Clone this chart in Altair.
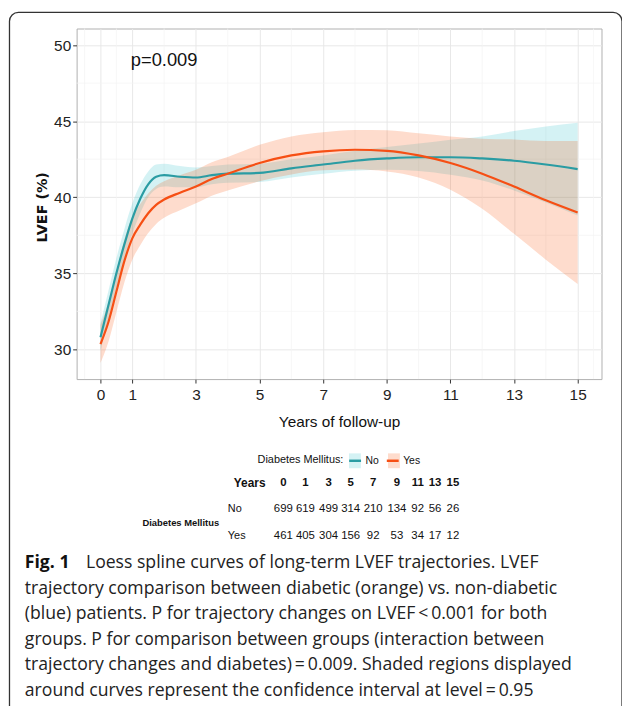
import altair as alt
import pandas as pd

# ---------------- data ----------------
years = [0, 0.25, 0.5, 0.75, 1, 1.25, 1.5, 1.75, 2, 2.5, 3, 3.5, 4, 5, 6, 7, 8, 9, 10, 11, 12, 13, 14, 15]

no_fit = [30.8, 32.9, 35.0, 36.9, 38.6, 39.9, 40.85, 41.35, 41.45, 41.35, 41.3, 41.45, 41.55,
          41.6, 41.9, 42.15, 42.4, 42.55, 42.63, 42.63, 42.55, 42.4, 42.15, 41.85]
no_lo = [29.9, 31.95, 34.0, 35.9, 37.6, 38.95, 40.0, 40.55, 40.7, 40.65, 40.65, 40.85, 40.95,
         41.0, 41.3, 41.55, 41.75, 41.8, 41.73, 41.48, 41.1, 40.45, 39.65, 38.8]
no_hi = [31.7, 33.85, 36.0, 37.9, 39.6, 40.85, 41.7, 42.15, 42.2, 42.05, 41.95, 42.05, 42.15,
         42.2, 42.5, 42.75, 43.05, 43.3, 43.53, 43.78, 44.0, 44.35, 44.65, 44.9]

yes_fit = [30.35, 31.8, 33.8, 35.8, 37.3, 38.2, 38.95, 39.5, 39.85, 40.3, 40.7, 41.2, 41.55,
           42.25, 42.75, 43.02, 43.12, 43.05, 42.75, 42.25, 41.55, 40.7, 39.8, 39.0]
yes_lo = [29.1, 30.5, 32.45, 34.4, 35.9, 36.85, 37.65, 38.25, 38.65, 39.15, 39.6, 40.1, 40.45,
          41.05, 41.5, 41.77, 41.82, 41.7, 41.3, 40.5, 39.25, 37.6, 35.9, 34.3]
yes_hi = [31.6, 33.1, 35.15, 37.2, 38.7, 39.55, 40.25, 40.75, 41.05, 41.45, 41.8, 42.3, 42.65,
          43.45, 44.0, 44.27, 44.42, 44.4, 44.2, 44.0, 43.85, 43.8, 43.7, 43.7]

groups = ["No", "Yes"]
x_ticks = [0, 1, 3, 5, 7, 9, 11, 13, 15]
y_ticks = [30, 35, 40, 45, 50]
x_minor = [-0.5, 0.5, 2, 4, 6, 8, 10, 12, 14, 15.5]
y_minor = [32.5, 37.5, 42.5, 47.5]

table_years = [0, 1, 3, 5, 7, 9, 11, 13, 15]
risk_no = [699, 619, 499, 314, 210, 134, 92, 56, 26]
risk_yes = [461, 405, 304, 156, 92, 53, 34, 17, 12]

caption_first = "Loess spline curves of long-term LVEF trajectories. LVEF"
caption_lines = [
    "trajectory comparison between diabetic (orange) vs. non-diabetic",
    "(blue) patients. P for trajectory changes on LVEF\u2009<\u20090.001 for both",
    "groups. P for comparison between groups (interaction between",
    "trajectory changes and diabetes)\u2009=\u20090.009. Shaded regions displayed",
    "around curves represent the confidence interval at level\u2009=\u20090.95",
]

# ---------------- tables ----------------
curves = pd.DataFrame({
    "year": years * 2,
    "group": ["No"] * len(years) + ["Yes"] * len(years),
    "fit": no_fit + yes_fit,
    "lo": no_lo + yes_lo,
    "hi": no_hi + yes_hi,
})

risk = pd.DataFrame({
    "col": table_years * 3,
    "r": [0] * 9 + [1] * 9 + [2] * 9,
    "val": [str(v) for v in table_years] + [str(v) for v in risk_no] + [str(v) for v in risk_yes],
})
caption = pd.DataFrame({"line": list(range(1, len(caption_lines) + 1)), "txt": caption_lines})

# ---------------- styling ----------------
TEAL = "#2a9ca3"
ORANGE = "#f64f14"
BAND = ["rgba(0,175,187,0.17)", "rgba(252,78,7,0.2)"]
SANS = "Liberation Sans, Arial, sans-serif"
CAPF = "Open Sans"
W, H = 530, 354
OX, OY = 77.3, 25.3  # page position of the plot origin

xs = alt.Scale(domain=[-0.75, 15.75], nice=False, zero=False)
ys = alt.Scale(domain=[28.05, 51.09], nice=False, zero=False)

base = alt.Chart(curves)

minor_x = alt.Chart(pd.DataFrame({"v": x_minor})).mark_rule(color="#f3f3f3", strokeWidth=0.7).encode(
    x=alt.X("v:Q", scale=xs))
minor_y = alt.Chart(pd.DataFrame({"v": y_minor})).mark_rule(color="#f3f3f3", strokeWidth=0.7).encode(
    y=alt.Y("v:Q", scale=ys))

# legend geometry (Arial metrics)
LT = 11              # legend title size
LL = 10.5            # legend label size
LX = 260 - OX        # legend start
LY = 429
TPAD = 4
LOFF = 3
CPAD = 2
SW = 2.5
title_w = 7.891 * LT
entry_no = 15 + LOFF + 1.278 * LL   # symbol column + offset + "No"

bands = base.mark_area(interpolate="monotone").encode(
    x=alt.X("year:Q", scale=xs,
            axis=alt.Axis(values=x_ticks, title="Years of follow-up", labelFontSize=15.5,
                          labelPadding=5, titleFontSize=15.5, titleFontWeight="normal",
                          titleBaseline="alphabetic", titleY=47.5)),
    y=alt.Y("lo:Q", scale=ys,
            axis=alt.Axis(values=y_ticks, title="LVEF (%)", labelFontSize=15.5, labelPadding=2,
                          titleFont="DejaVu Sans", titleFontWeight="bold", titleFontSize=14.5,
                          titleBaseline="alphabetic", titleX=-30, titleY=180, titleAngle=-90)),
    y2="hi:Q",
    fill=alt.Fill("group:N", scale=alt.Scale(domain=groups, range=BAND),
                  legend=alt.Legend(orient="none", legendX=LX + title_w + TPAD, legendY=LY,
                                    direction="horizontal", title=None, labelExpr="''",
                                    labelOffset=0, columnPadding=entry_no + CPAD - 17,
                                    symbolType="M-1,-1.25H1V1.25H-1Z", symbolSize=144,
                                    symbolStrokeWidth=SW, symbolStrokeColor="transparent",
                                    symbolOpacity=1)),
)

lines = base.mark_line(interpolate="monotone", strokeWidth=2.2).encode(
    x=alt.X("year:Q", scale=xs),
    y=alt.Y("fit:Q", scale=ys),
    color=alt.Color("group:N", scale=alt.Scale(range=[TEAL, ORANGE]),
                    legend=alt.Legend(orient="none", legendX=LX, legendY=LY,
                                      direction="horizontal", title="Diabetes Mellitus:",
                                      titleOrient="left", titleAnchor="middle", titleBaseline="middle",
                                      titleFontSize=LT, titlePadding=TPAD,
                                      labelFontSize=LL, labelOffset=LOFF, columnPadding=CPAD,
                                      symbolType="stroke", symbolSize=144, symbolStrokeWidth=SW)),
)

ptext = alt.Chart(pd.DataFrame({"x": [2], "y": [49], "t": ["p=0.009"]})).mark_text(
    font=SANS, fontSize=18.5, color="#111", baseline="middle").encode(
    x=alt.X("x:Q", scale=xs), y=alt.Y("y:Q", scale=ys), text="t:N")

main = alt.layer(minor_x, minor_y, bands, lines, ptext)

# risk table
col_px = [286, 308.3, 331.7, 354, 376.7, 400.7, 421.7, 439.3, 457.3]
row_px = [484, 511, 538]
tx = alt.Scale(domain=table_years, range=[p - OX for p in col_px])
ty = alt.Scale(domain=[0, 1, 2], range=[p - OY for p in row_px])

risk_head = alt.Chart(risk).transform_filter(alt.datum.r == 0).mark_text(
    font=SANS, fontSize=11.5, fontWeight="bold", color="#111", baseline="middle").encode(
    x=alt.X("col:Q", scale=tx, axis=None), y=alt.Y("r:Q", scale=ty, axis=None), text="val:N")
risk_vals = alt.Chart(risk).transform_filter(alt.datum.r > 0).mark_text(
    font=SANS, fontSize=11.5, color="#111", baseline="middle").encode(
    x=alt.X("col:Q", scale=tx, axis=None), y=alt.Y("r:Q", scale=ty, axis=None), text="val:N")
head_lab = alt.Chart(pd.DataFrame({"r": [0], "t": ["Years"]})).mark_text(
    font=SANS, fontSize=12, fontWeight="bold", color="#111", baseline="middle", align="left").encode(
    x=alt.value(236 - OX), y=alt.Y("r:Q", scale=ty, axis=None), text="t:N")
row_lab = alt.Chart(pd.DataFrame({"r": [1, 2], "t": ["No", "Yes"]})).mark_text(
    font=SANS, fontSize=11, color="#111", baseline="middle", align="left").encode(
    x=alt.value(230 - OX), y=alt.Y("r:Q", scale=ty, axis=None), text="t:N")
dm_lab = alt.Chart(pd.DataFrame({"r": [1], "t": ["Diabetes Mellitus"]})).mark_text(
    font=SANS, fontSize=9.5, fontWeight="bold", color="#111", baseline="middle", dy=14).encode(
    x=alt.value(182.5 - OX), y=alt.Y("r:Q", scale=ty, axis=None), text="t:N")

table = alt.layer(risk_head, risk_vals, head_lab, row_lab, dm_lab)

# caption
cap_y = alt.Scale(domain=[0, 5], range=[570.5 - OY, 699 - OY])
cap_rest = alt.Chart(caption).mark_text(
    font=CAPF, fontSize=17.8, color="#222", align="left", baseline="alphabetic").encode(
    x=alt.value(25 - OX), y=alt.Y("line:Q", scale=cap_y, axis=None), text="txt:N")
cap_first = alt.Chart(pd.DataFrame({"line": [0], "t": [caption_first]})).mark_text(
    font=CAPF, fontSize=17.8, color="#222", align="left", baseline="alphabetic").encode(
    x=alt.value(86.7 - OX), y=alt.Y("line:Q", scale=cap_y, axis=None), text="t:N")
cap_fig = alt.Chart(pd.DataFrame({"line": [0], "t": ["Fig. 1"]})).mark_text(
    font=CAPF, fontSize=17.8, fontWeight="bold", color="#111", align="left",
    baseline="alphabetic").encode(
    x=alt.value(25 - OX), y=alt.Y("line:Q", scale=cap_y, axis=None), text="t:N")
cap = alt.layer(cap_rest, cap_first, cap_fig)

frame = alt.Chart(pd.DataFrame({"a": [0]})).mark_rect(
    fillOpacity=0, stroke="#333333", strokeWidth=1.3, cornerRadius=9).encode(
    x=alt.value(9.5 - OX), x2=alt.value(628 - OX), y=alt.value(9 - OY), y2=alt.value(900))

chart = alt.layer(frame, main, table, cap).resolve_scale(
    x="independent", y="independent"
).properties(
    width=W, height=H,
    autosize=alt.AutoSizeParams(type="none"),
    padding={"left": OX - 8, "top": OY - 8, "right": 620 - (OX - 8) - W, "bottom": 698 - (OY - 8) - H},
).configure_view(
    stroke="#b0b0b0", strokeWidth=1
).configure_axis(
    domain=False, grid=True, gridColor="#e8e8e8", gridWidth=1,
    tickColor="#333333", tickSize=4, tickWidth=1,
    labelFont=SANS, labelColor="#222222", titleFont=SANS, titleColor="#111111",
).configure_legend(
    titleFont=SANS, titleFontWeight="normal", titleColor="#111",
    labelFont=SANS, labelColor="#111", padding=0,
)

chart.save("out.html", embed_options={"renderer": "svg", "actions": False})
